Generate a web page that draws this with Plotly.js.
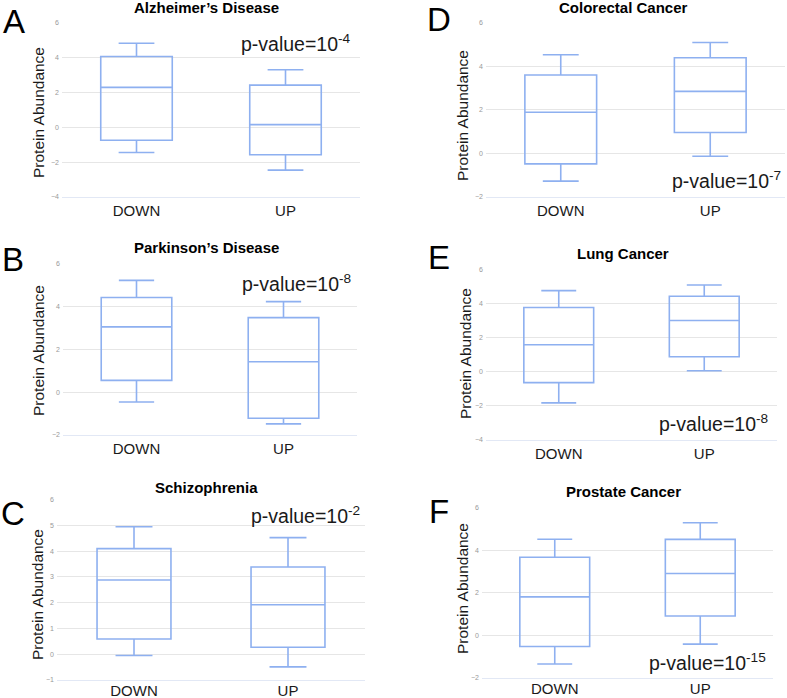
<!DOCTYPE html>
<html>
<head>
<meta charset="utf-8">
<script src="https://cdn.plot.ly/plotly-3.0.1.min.js"></script>
<style>
  html, body { margin: 0; padding: 0; background: #fff; }
  #chart { width: 787px; height: 698px; }
</style>
</head>
<body>
<div id="chart"></div>
<script>
// box stats, one entry per panel, [DOWN, UP]
var groups = ['DOWN', 'UP'];
var panelNames = ['Alzheimer\u2019s Disease', 'Parkinson\u2019s Disease', 'Schizophrenia',
                  'Colorectal Cancer', 'Lung Cancer', 'Prostate Cancer'];
var panelLetters = ['A', 'B', 'C', 'D', 'E', 'F'];
var pExponents = ['-4', '-8', '-2', '-7', '-8', '-15'];

var lowerFence = [[-1.45, -2.46], [-0.46, -1.48], [-0.05, -0.49], [-1.27, -0.13], [-1.82, 0.07], [-1.34, -0.41]];
var q1Vals     = [[-0.74, -1.58], [0.55, -1.22], [0.59, 0.27], [-0.48, 0.96], [-0.63, 0.89], [-0.52, 0.91]];
var medianVals = [[2.29, 0.15], [3.05, 1.42], [2.88, 1.92], [1.89, 2.85], [1.59, 3.02], [1.81, 2.91]];
var q3Vals     = [[4.06, 2.42], [4.42, 3.48], [4.10, 3.39], [3.60, 4.39], [3.78, 4.44], [3.67, 4.51]];
var upperFence = [[4.82, 3.30], [5.22, 4.23], [4.95, 4.53], [4.53, 5.09], [4.77, 5.10], [4.52, 5.29]];

var yRanges = [[-4, 6], [-2, 6], [-1, 6], [-2, 6], [-4, 6], [-2, 6]];
var yDticks = [2, 2, 1, 2, 2, 2];

// layout in pixels: plot box [left, right, top, bottom]
var W = 787, H = 698;
var boxesPx = [[62, 360, 22, 197], [63, 357, 263, 435], [57, 365, 499, 680],
               [486, 785, 22, 197], [486, 777, 269, 440], [482, 773, 507, 678]];
var titlePos = [[206, 8], [206, 247], [206, 487], [623, 8], [623, 254], [623, 491]];
var letterPos = [[14, 21], [13, 260], [13, 513], [439, 19], [439, 257], [439, 511]];
var yTitlePos = [[38, 113], [38, 351], [37, 595], [462, 116], [465, 354], [462, 589]];
var pPos = [[353, 43], [353, 283], [362, 515], [783, 180], [770, 423], [768, 662]];
var xLabelShift = [0, 0, -3, 0, 0, -3];

function px(x) { return x / W; }
function py(y) { return 1 - y / H; }

var data = [];
var layout = {
  width: W, height: H,
  margin: {l: 0, r: 0, t: 0, b: 0},
  paper_bgcolor: '#fff',
  plot_bgcolor: '#fff',
  showlegend: false,
  font: {family: 'Liberation Sans, Arial, sans-serif', color: '#111'},
  annotations: []
};

for (var i = 0; i < 6; i++) {
  var n = i === 0 ? '' : String(i + 1);
  data.push({
    type: 'box',
    x: groups,
    q1: q1Vals[i],
    median: medianVals[i],
    q3: q3Vals[i],
    lowerfence: lowerFence[i],
    upperfence: upperFence[i],
    boxpoints: false,
    width: 0.48,
    whiskerwidth: 0.5,
    fillcolor: 'rgba(255,255,255,0)',
    line: {color: '#8eb0f0', width: 1.6},
    hoverinfo: 'skip',
    xaxis: 'x' + n,
    yaxis: 'y' + n
  });

  var b = boxesPx[i];
  var span = yRanges[i][1] - yRanges[i][0];
  layout['xaxis' + n] = {
    domain: [px(b[0]), px(b[1])],
    anchor: 'y' + n,
    type: 'category',
    range: [-0.5, 1.5],
    showgrid: false,
    zeroline: false,
    showline: true,
    linecolor: '#e2e8f5',
    linewidth: 1,
    ticks: '',
    tickfont: {size: 15, color: '#1a1a1a'},
    ticklabelstandoff: xLabelShift[i],
    fixedrange: true
  };
  layout['yaxis' + n] = {
    domain: [py(b[3]), py(b[2])],
    anchor: 'x' + n,
    // a hair of headroom so the top gridline is still drawn
    range: [yRanges[i][0], yRanges[i][1] + span * 0.004],
    tick0: 0,
    dtick: yDticks[i],
    showgrid: true,
    gridcolor: '#e6e6e6',
    gridwidth: 1,
    zeroline: false,
    showline: false,
    ticks: '',
    tickfont: {size: 7, color: '#999'},
    ticklabelstandoff: 2,
    fixedrange: true
  };

  layout.annotations.push({
    xref: 'paper', yref: 'paper',
    x: px(titlePos[i][0]), y: py(titlePos[i][1]),
    xanchor: 'center', yanchor: 'middle',
    text: '<b>' + panelNames[i] + '</b>',
    showarrow: false,
    font: {size: 15, color: '#000'}
  });
  layout.annotations.push({
    xref: 'paper', yref: 'paper',
    x: px(letterPos[i][0]), y: py(letterPos[i][1]),
    xanchor: 'center', yanchor: 'middle',
    text: panelLetters[i],
    showarrow: false,
    borderpad: 0,
    font: {size: 33, color: '#000'}
  });
  layout.annotations.push({
    xref: 'paper', yref: 'paper',
    x: px(yTitlePos[i][0]), y: py(yTitlePos[i][1]),
    xanchor: 'center', yanchor: 'middle',
    text: 'Protein Abundance',
    textangle: -90,
    showarrow: false,
    font: {size: 15.5, color: '#1a1a1a'}
  });
  layout.annotations.push({
    xref: 'paper', yref: 'paper',
    x: px(pPos[i][0]), y: py(pPos[i][1]),
    xanchor: 'right', yanchor: 'middle',
    text: 'p-value=10<sup>' + pExponents[i] + '</sup>',
    showarrow: false,
    font: {size: 19.5, color: '#1a1a1a'}
  });
}

Plotly.newPlot('chart', data, layout, {staticPlot: true});
</script>
</body>
</html>
